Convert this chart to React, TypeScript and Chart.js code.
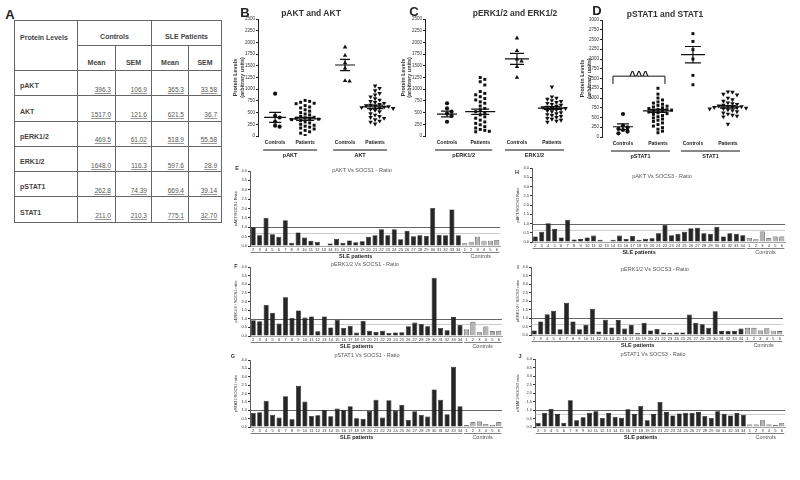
import React, { useEffect, useRef } from 'react';
import { Chart, registerables } from 'chart.js';
Chart.register(...registerables);

const FONT = '"Liberation Sans", Arial, sans-serif';
Chart.defaults.font.family = FONT;

// ---------- Table A ----------
const tableRows = ['pAKT', 'AKT', 'pERK1/2', 'ERK1/2', 'pSTAT1', 'STAT1'];
const ctrlMeanText = ['396.3', '1517.0', '469.5', '1648.0', '262.8', '211.0'];
const ctrlSemText = ['106.9', '121.6', '61.02', '116.3', '74.39', '210.3'];
const sleMeanText = ['365.3', '621.5', '518.9', '597.6', '669.4', '775.1'];
const sleSemText = ['33.58', '36.7', '55.58', '28.9', '39.14', '32.70'];

// ---------- Scatter panels B, C, D ----------
const catLabels = ['Controls', 'Patients', 'Controls', 'Patients'];

const bGroupNames = ['pAKT', 'AKT'];
const bCtrlPAKT = [905, 430, 395, 305, 220, 200];
const bPatPAKT = [760, 740, 720, 700, 690, 650, 620, 600, 560, 530, 500, 470, 450, 420, 400, 390, 380, 370, 360, 350, 330, 300, 280, 250, 230, 210, 190, 170, 150, 120, 90, 60, 10];
const bCtrlAKT = [1900, 1720, 1560, 1450, 1180, 1170];
const bPatAKT = [1070, 1020, 970, 910, 880, 840, 800, 770, 740, 720, 700, 680, 660, 650, 640, 630, 620, 610, 600, 590, 570, 550, 520, 480, 450, 420, 400, 380, 350, 320, 300, 260];
const bMeans = [396.3, 365.3, 1517.0, 621.5];
const bSems = [106.9, 33.58, 121.6, 36.7];

const cGroupNames = ['pERK1/2', 'ERK1/2'];
const cCtrlPERK = [700, 590, 520, 480, 430, 305];
const cPatPERK = [1250, 1210, 1160, 1090, 950, 910, 880, 840, 800, 770, 730, 700, 640, 590, 560, 520, 490, 450, 410, 380, 340, 300, 270, 240, 200, 170, 140, 120, 100, 90];
const cCtrlERK = [2090, 1820, 1640, 1600, 1480, 1250];
const cPatERK = [1050, 840, 810, 790, 760, 740, 720, 700, 680, 660, 640, 620, 610, 600, 590, 580, 560, 540, 520, 500, 480, 460, 440, 420, 400, 380, 360, 340, 320, 300];
const cMeans = [469.5, 518.9, 1648.0, 597.6];
const cSems = [61.02, 55.58, 116.3, 28.9];

const dGroupNames = ['pSTAT1', 'STAT1'];
const dCtrlPSTAT = [590, 290, 250, 210, 180, 140, 95];
const dPatPSTAT = [1250, 1100, 1000, 950, 900, 870, 840, 810, 790, 770, 750, 730, 710, 700, 690, 680, 660, 640, 620, 600, 580, 550, 520, 490, 460, 430, 400, 360, 320, 280, 240, 200, 150, 110];
const dCtrlSTAT = [2650, 2450, 2240, 2000, 1580, 1340];
const dPatSTAT = [1160, 1150, 1100, 1080, 1000, 960, 920, 880, 860, 840, 820, 800, 790, 780, 770, 760, 750, 740, 730, 720, 700, 680, 650, 620, 590, 560, 540, 520, 330];
const dMeans = [262.8, 669.4, 2110, 775.1];
const dSems = [74.39, 39.14, 210.3, 32.7];
const dSigText = '^^^';
const dSigTop = 1560;
const dSigLeg = 1360;

// ---------- Bar panels E-J ----------
const sleIds = ['2','3','4','5','6','7','8','9','10','11','12','13','14','15','16','17','18','19','20','21','22','23','24','25','26','27','28','29','30','31','32','33','34'];
const ctrlIds = ['1','2','3','4','5','6'];

const eSle = [1.0, 0.57, 1.5, 0.63, 0.5, 1.38, 0.17, 0.72, 0.45, 0.28, 0.22, 0.03, 0.14, 0.38, 0.17, 0.3, 0.2, 0.25, 0.5, 0.58, 0.9, 0.57, 0.9, 0.36, 0.82, 0.52, 0.57, 0.55, 2.03, 0.6, 0.58, 1.95, 0.58];
const eCtrl = [0.15, 0.23, 0.5, 0.28, 0.28, 0.32];
const fSle = [0.92, 0.86, 1.8, 1.35, 0.72, 2.24, 1.05, 1.48, 1.07, 1.13, 0.27, 1.13, 0.5, 0.94, 0.47, 0.6, 0.2, 0.88, 0.31, 0.25, 0.31, 0.18, 0.21, 0.22, 0.57, 0.78, 0.7, 0.56, 3.37, 0.47, 0.33, 1.1, 0.64];
const fCtrl = [0.37, 0.82, 0.22, 0.55, 0.27, 0.3];
const gSle = [0.84, 0.88, 1.56, 0.72, 0.56, 1.84, 0.46, 2.46, 1.52, 0.66, 0.7, 1.02, 0.64, 1.1, 1.02, 1.24, 0.52, 0.5, 0.96, 1.62, 0.56, 1.6, 0.98, 1.32, 0.42, 0.94, 0.72, 0.62, 2.24, 1.62, 0.76, 3.6, 1.24];
const gCtrl = [0.1, 0.28, 0.33, 0.18, 0.12, 0.28];
const hSle = [0.3, 0.55, 1.02, 0.7, 0.25, 1.2, 0.14, 0.16, 0.25, 0.35, 0.12, 0.02, 0.12, 0.35, 0.16, 0.33, 0.12, 0.18, 0.2, 0.47, 0.92, 0.37, 0.45, 0.55, 0.75, 0.77, 0.47, 0.45, 0.82, 0.3, 0.47, 0.45, 0.36];
const hCtrl = [0.22, 0.15, 0.57, 0.2, 0.3, 0.3];
const iSle = [0.27, 0.8, 1.22, 1.43, 0.34, 1.9, 0.8, 0.34, 0.61, 1.54, 0.21, 0.9, 0.44, 0.88, 0.38, 0.61, 0.13, 0.72, 0.27, 0.36, 0.15, 0.13, 0.15, 0.15, 1.2, 0.72, 0.63, 0.42, 1.39, 0.23, 0.25, 0.25, 0.38];
const iCtrl = [0.42, 0.42, 0.27, 0.4, 0.25, 0.23];
const jSle = [0.24, 0.84, 1.08, 0.76, 0.25, 1.57, 0.39, 0.57, 0.84, 0.92, 0.53, 0.82, 0.6, 0.55, 1.04, 0.76, 1.24, 0.39, 0.76, 1.47, 0.88, 0.68, 0.8, 0.84, 0.84, 0.88, 0.65, 0.53, 0.92, 0.78, 0.68, 0.82, 0.72];
const jCtrl = [0.15, 0.15, 0.4, 0.15, 0.1, 0.24];

const refMain = 1.0;
const refSecond = { E: 0.67, F: 0.67, G: null as number | null, H: 0.65, I: 0.65, J: 0.75 };

// ---------- helpers ----------
type Geo = { cl: number; ct: number; cw: number; ch: number; left: number; right: number; top: number; bottom: number };

function beeswarm(values: number[], thr: number, dx: number) {
  const order = values.map((_, i) => i).sort((a, b) => values[b] - values[a]);
  const placed: { v: number; s: number }[] = [];
  const offs = new Array(values.length).fill(0);
  const seq = [0, 1, -1, 2, -2, 3, -3, 4, -4, 5, -5, 6, -6];
  for (const i of order) {
    const v = values[i];
    const used = new Set(placed.filter(p => Math.abs(p.v - v) < thr).map(p => p.s));
    let s = 0;
    for (const c of seq) { if (!used.has(c)) { s = c; break; } }
    placed.push({ v, s });
    offs[i] = s * dx;
  }
  return offs;
}

type ScatterSpec = {
  geo: Geo; yMax: number; pos: number[]; xMin: number; xMax: number; dx: number;
  groups: number[][]; styles: { style: string; rot: number; r: number }[];
  means: number[]; sems: number[]; meanHalf: number[]; capHalf: number[];
  groupNames: string[]; yTitlePad: number;
  sig?: { text: string; top: number; leg: number };
};

function makeScatter(sp: ScatterSpec) {
  const g = sp.geo;
  const datasets = sp.groups.map((vals, gi) => {
    const offs = beeswarm(vals, sp.yMax * 0.03, sp.dx);
    return {
      type: 'scatter' as const,
      data: vals.map((v, i) => ({ x: sp.pos[gi] + offs[i], y: v })),
      pointStyle: sp.styles[gi].style,
      rotation: sp.styles[gi].rot,
      pointRadius: sp.styles[gi].r,
      backgroundColor: '#111',
      borderColor: '#111',
      borderWidth: 0,
    };
  });
  const decor = {
    id: 'scatterDecor',
    afterDatasetsDraw(chart: any) {
      const { ctx, chartArea } = chart;
      const x = chart.scales.x, y = chart.scales.y;
      ctx.save();
      ctx.strokeStyle = '#111';
      ctx.lineWidth = 1.2;
      sp.pos.forEach((p, i) => {
        const cx = x.getPixelForValue(p);
        const my = y.getPixelForValue(sp.means[i]);
        const hi = y.getPixelForValue(sp.means[i] + sp.sems[i]);
        const lo = y.getPixelForValue(sp.means[i] - sp.sems[i]);
        const w = sp.meanHalf[i], c = sp.capHalf[i];
        ctx.beginPath();
        ctx.moveTo(cx - w, my); ctx.lineTo(cx + w, my);
        ctx.moveTo(cx, hi); ctx.lineTo(cx, lo);
        ctx.moveTo(cx - c, hi); ctx.lineTo(cx + c, hi);
        ctx.moveTo(cx - c, lo); ctx.lineTo(cx + c, lo);
        ctx.stroke();
      });
      ctx.lineWidth = 1;
      ctx.fillStyle = '#222';
      ctx.font = 'bold 5.5px ' + FONT;
      ctx.textAlign = 'center';
      ctx.textBaseline = 'middle';
      sp.groupNames.forEach((name, k) => {
        const a = x.getPixelForValue(sp.pos[2 * k]) - 12;
        const b = x.getPixelForValue(sp.pos[2 * k + 1]) + 12;
        const ly = chartArea.bottom + 14;
        ctx.beginPath(); ctx.moveTo(a, ly); ctx.lineTo(b, ly); ctx.stroke();
        ctx.fillText(name, (a + b) / 2, ly + 5.5);
      });
      if (sp.sig) {
        const a = x.getPixelForValue(sp.pos[0]) - 10;
        const b = x.getPixelForValue(sp.pos[1]) + 7;
        const ty = y.getPixelForValue(sp.sig.top);
        const ly = y.getPixelForValue(sp.sig.leg);
        ctx.lineWidth = 1;
        ctx.beginPath();
        ctx.moveTo(a, ly); ctx.lineTo(a, ty); ctx.lineTo(b, ty); ctx.lineTo(b, ly);
        ctx.stroke();
        ctx.font = 'bold 11px ' + FONT;
        ctx.textBaseline = 'alphabetic';
        ctx.fillStyle = '#111';
        ctx.fillText(sp.sig.text, (a + b) / 2, ty + 3);
      }
      ctx.restore();
    },
  };
  return {
    type: 'scatter' as const,
    data: { datasets },
    plugins: [decor],
    options: {
      responsive: false, animation: false as const, devicePixelRatio: 1,
      layout: { padding: { top: g.top - g.ct, right: g.cl + g.cw - g.right, left: 0, bottom: 0 } },
      plugins: { legend: { display: false }, tooltip: { enabled: false }, title: { display: false } },
      scales: {
        x: {
          type: 'linear' as const, min: sp.xMin, max: sp.xMax,
          afterBuildTicks: (s: any) => { s.ticks = sp.pos.map(v => ({ value: v })); },
          afterFit: (s: any) => { s.height = g.ct + g.ch - g.bottom; },
          grid: { display: false, drawTicks: false }, border: { display: false },
          ticks: { autoSkip: false, maxRotation: 0, padding: 4, font: { size: 5, weight: 'bold' as const }, color: '#222', callback: (_v: any, i: number) => catLabels[i] },
        },
        y: {
          type: 'linear' as const, min: 0, max: sp.yMax,
          afterFit: (s: any) => { s.width = g.left - g.cl; },
          ticks: { stepSize: 250, font: { size: 4.5 }, color: '#333', padding: 1, callback: (v: any) => String(v) },
          grid: { drawOnChartArea: false, tickLength: 2, color: '#222' },
          border: { color: '#222' },
          title: { display: true, text: ['Protein Levels', '(arbitrary units)'], font: { size: 5.5, weight: 'bold' as const }, color: '#333', padding: { top: sp.yTitlePad, bottom: 0 } },
        },
      },
    },
  };
}

type BarSpec = { geo: Geo; sle: number[]; ctrl: number[]; ref2: number | null; yTitle: string; yTitlePad: number };

function makeBar(sp: BarSpec) {
  const g = sp.geo;
  const labels = [...sleIds, ...ctrlIds];
  const values = [...sp.sle, ...sp.ctrl];
  const n = sp.sle.length;
  const decor = {
    id: 'barDecor',
    beforeDatasetsDraw(chart: any) {
      const { ctx, chartArea } = chart;
      const y = chart.scales.y;
      ctx.save();
      const lines: [number | null, string, number][] = [[refMain, '#555', 0.9], [sp.ref2, '#b8b8b8', 0.7]];
      lines.forEach(([v, col, lw]) => {
        if (v === null) return;
        const py = Math.round(y.getPixelForValue(v)) + 0.5;
        ctx.strokeStyle = col; ctx.lineWidth = lw;
        ctx.beginPath(); ctx.moveTo(chartArea.left, py); ctx.lineTo(chartArea.right, py); ctx.stroke();
      });
      ctx.restore();
    },
    afterDraw(chart: any) {
      const { ctx, chartArea } = chart;
      const x = chart.scales.x;
      const half = (x.getPixelForValue(1) - x.getPixelForValue(0)) / 2;
      const ly = chartArea.bottom + 6.5;
      ctx.save();
      ctx.strokeStyle = '#444'; ctx.lineWidth = 0.7;
      ctx.textAlign = 'center'; ctx.textBaseline = 'middle';
      const spans: [number, number, string, string, string][] = [
        [0, n - 1, 'SLE patients', 'bold 5.5px ' + FONT, '#222'],
        [n, labels.length - 1, 'Controls', '5.5px ' + FONT, '#555'],
      ];
      spans.forEach(([a, b, t, f, c]) => {
        const xa = x.getPixelForValue(a) - half * 0.8;
        const xb = x.getPixelForValue(b) + half * 0.8;
        ctx.beginPath(); ctx.moveTo(xa, ly); ctx.lineTo(xb, ly); ctx.stroke();
        ctx.font = f; ctx.fillStyle = c;
        ctx.fillText(t, (xa + xb) / 2, ly + 3.6);
      });
      ctx.restore();
    },
  };
  return {
    type: 'bar' as const,
    data: {
      labels,
      datasets: [{
        data: values,
        backgroundColor: values.map((_, i) => (i < n ? '#262626' : '#b4b4b4')),
        borderColor: '#111',
        borderWidth: 0.6,
        barPercentage: 0.78,
        categoryPercentage: 1,
      }],
    },
    plugins: [decor],
    options: {
      responsive: false, animation: false as const, devicePixelRatio: 1,
      layout: { padding: { top: g.top - g.ct, right: g.cl + g.cw - g.right, left: 0, bottom: 0 } },
      plugins: { legend: { display: false }, tooltip: { enabled: false }, title: { display: false } },
      scales: {
        x: {
          afterFit: (s: any) => { s.height = g.ct + g.ch - g.bottom; },
          grid: { display: false, drawTicks: false },
          border: { display: true, color: '#666', width: 0.6 },
          ticks: { autoSkip: false, maxRotation: 0, minRotation: 0, padding: 1, font: { size: 4 }, color: '#333' },
        },
        y: {
          min: 0, max: 4,
          afterFit: (s: any) => { s.width = g.left - g.cl; },
          ticks: { stepSize: 0.5, font: { size: 4 }, color: '#333', padding: 1, callback: (v: any) => Number(v).toFixed(1) },
          grid: { drawOnChartArea: false, tickLength: 2, color: '#333' },
          border: { color: '#333', width: 0.8 },
          title: { display: true, text: sp.yTitle, font: { size: 4 }, color: '#333', padding: { top: sp.yTitlePad, bottom: 0 } },
        },
      },
    },
  };
}

function ChartCanvas({ geo, make }: { geo: Geo; make: () => any }) {
  const ref = useRef<HTMLCanvasElement>(null);
  useEffect(() => {
    const chart = new Chart(ref.current as HTMLCanvasElement, make());
    return () => chart.destroy();
  }, []);
  return (
    <canvas
      ref={ref}
      width={geo.cw}
      height={geo.ch}
      style={{ position: 'absolute', left: geo.cl, top: geo.ct, width: geo.cw, height: geo.ch }}
    />
  );
}

function Txt({ x, y, s, b, c, children }: { x: number; y: number; s: number; b?: boolean; c?: string; children: any }) {
  return (
    <div style={{
      position: 'absolute', left: x, top: y, transform: 'translate(-50%,-50%)', fontSize: s,
      fontWeight: b ? 'bold' : 'normal', color: c || '#222', whiteSpace: 'nowrap', lineHeight: 1, fontFamily: FONT,
    }}>{children}</div>
  );
}

const geoB: Geo = { cl: 225, ct: 0, cw: 185, ch: 165, left: 258, right: 400, top: 19, bottom: 136 };
const geoC: Geo = { cl: 395, ct: 0, cw: 190, ch: 165, left: 425, right: 575, top: 19, bottom: 136 };
const geoD: Geo = { cl: 572, ct: 0, cw: 190, ch: 165, left: 602, right: 751, top: 20, bottom: 137 };

const geoE: Geo = { cl: 228, ct: 158, cw: 277, ch: 104, left: 250, right: 500, top: 171, bottom: 246 };
const geoF: Geo = { cl: 228, ct: 255, cw: 277, ch: 97, left: 250, right: 502, top: 267, bottom: 336 };
const geoG: Geo = { cl: 228, ct: 348, cw: 277, ch: 95, left: 250, right: 502, top: 360, bottom: 427 };
const geoH: Geo = { cl: 510, ct: 156, cw: 280, ch: 102, left: 532, right: 785, top: 168, bottom: 242 };
const geoI: Geo = { cl: 510, ct: 255, cw: 280, ch: 96, left: 531, right: 783, top: 267, bottom: 335 };
const geoJ: Geo = { cl: 510, ct: 347, cw: 280, ch: 96, left: 535, right: 785, top: 359, bottom: 427 };

const stylesBC = [
  { style: 'circle', rot: 0, r: 2.1 },
  { style: 'rect', rot: 0, r: 2.1 },
  { style: 'triangle', rot: 0, r: 2.6 },
  { style: 'triangle', rot: 180, r: 2.6 },
];

function DataTable() {
  const border = '1px solid #666';
  const hdr: any = { border, fontWeight: 'bold', fontSize: 7, color: '#444', lineHeight: 1, padding: 0, verticalAlign: 'bottom', paddingBottom: 5, textAlign: 'center' };
  const lab: any = { border, fontWeight: 'bold', fontSize: 7, color: '#444', lineHeight: 1, padding: 0, paddingLeft: 5, paddingBottom: 5, verticalAlign: 'bottom', textAlign: 'left' };
  const val: any = { border, fontSize: 6.5, color: '#555', lineHeight: 1, padding: 0, paddingRight: 4, paddingBottom: 2, verticalAlign: 'bottom', textAlign: 'right' };
  const u: any = { textDecoration: 'underline', textDecorationColor: '#999' };
  return (
    <table style={{ position: 'absolute', left: 14, top: 20, width: 207, borderCollapse: 'collapse', tableLayout: 'fixed', fontFamily: FONT }}>
      <colgroup>
        <col style={{ width: 63 }} /><col style={{ width: 38 }} /><col style={{ width: 36 }} /><col style={{ width: 37 }} /><col style={{ width: 33 }} />
      </colgroup>
      <tbody>
        <tr style={{ height: 25 }}>
          <td rowSpan={2} style={{ ...lab, verticalAlign: 'top', paddingTop: 13, paddingBottom: 0 }}>Protein Levels</td>
          <td colSpan={2} style={hdr}>Controls</td>
          <td colSpan={2} style={hdr}>SLE Patients</td>
        </tr>
        <tr style={{ height: 25 }}>
          <td style={{ ...hdr, paddingBottom: 4 }}>Mean</td>
          <td style={{ ...hdr, paddingBottom: 4 }}>SEM</td>
          <td style={{ ...hdr, paddingBottom: 4 }}>Mean</td>
          <td style={{ ...hdr, paddingBottom: 4 }}>SEM</td>
        </tr>
        {tableRows.map((r, i) => (
          <tr key={r} style={{ height: 25.3 }}>
            <td style={lab}><div style={{ marginBottom: 1 }}>{r}</div></td>
            <td style={val}><span style={u}>{ctrlMeanText[i]}</span></td>
            <td style={val}><span style={u}>{ctrlSemText[i]}</span></td>
            <td style={val}><span style={u}>{sleMeanText[i]}</span></td>
            <td style={val}><span style={u}>{sleSemText[i]}</span></td>
          </tr>
        ))}
      </tbody>
    </table>
  );
}

export default function App() {
  return (
    <div style={{ position: 'absolute', left: 0, top: 0, width: 800, height: 480, background: '#fff', overflow: 'hidden', fontFamily: FONT }}>
      <Txt x={10} y={14} s={13} b>A</Txt>
      <DataTable />

      <ChartCanvas geo={geoB} make={() => makeScatter({
        geo: geoB, yMax: 2500, pos: [1, 2, 3.33, 4.33], xMin: 0.43, xMax: 5.16, dx: 0.15,
        groups: [bCtrlPAKT, bPatPAKT, bCtrlAKT, bPatAKT], styles: stylesBC,
        means: bMeans, sems: bSems, meanHalf: [11, 16, 10, 13], capHalf: [6, 9, 5, 8],
        groupNames: bGroupNames, yTitlePad: 7.5,
      })} />
      <ChartCanvas geo={geoC} make={() => makeScatter({
        geo: geoC, yMax: 2500, pos: [1, 1.95, 3, 4], xMin: 0.37, xMax: 4.66, dx: 0.13,
        groups: [cCtrlPERK, cPatPERK, cCtrlERK, cPatERK], styles: stylesBC,
        means: cMeans, sems: cSems, meanHalf: [10, 15, 12, 14], capHalf: [6, 9, 7, 8],
        groupNames: cGroupNames, yTitlePad: 5,
      })} />
      <ChartCanvas geo={geoD} make={() => makeScatter({
        geo: geoD, yMax: 3000, pos: [1, 2, 3, 4], xMin: 0.4, xMax: 4.66, dx: 0.13,
        groups: [dCtrlPSTAT, dPatPSTAT, dCtrlSTAT, dPatSTAT],
        styles: [
          { style: 'circle', rot: 0, r: 2.1 },
          { style: 'rect', rot: 0, r: 2.1 },
          { style: 'rect', rot: 0, r: 2.1 },
          { style: 'triangle', rot: 180, r: 2.6 },
        ],
        means: dMeans, sems: dSems, meanHalf: [10, 15, 12, 14], capHalf: [6, 9, 8, 8],
        groupNames: dGroupNames, yTitlePad: 7.5,
        sig: { text: dSigText, top: dSigTop, leg: dSigLeg },
      })} />

      <Txt x={245} y={12} s={13} b>B</Txt>
      <Txt x={311} y={13} s={8.5} b c="#333">pAKT and AKT</Txt>
      <Txt x={414} y={11} s={13} b>C</Txt>
      <Txt x={515} y={13} s={8.5} b c="#333">pERK1/2 and ERK1/2</Txt>
      <Txt x={597} y={10} s={13} b>D</Txt>
      <Txt x={665} y={14} s={8.5} b c="#333">pSTAT1 and STAT1</Txt>

      <ChartCanvas geo={geoE} make={() => makeBar({ geo: geoE, sle: eSle, ctrl: eCtrl, ref2: refSecond.E, yTitle: 'pAKT/SOCS1 Ratio', yTitlePad: 5.6 })} />
      <ChartCanvas geo={geoF} make={() => makeBar({ geo: geoF, sle: fSle, ctrl: fCtrl, ref2: refSecond.F, yTitle: 'pERK1/2 / SOCS1 ratio', yTitlePad: 5.6 })} />
      <ChartCanvas geo={geoG} make={() => makeBar({ geo: geoG, sle: gSle, ctrl: gCtrl, ref2: refSecond.G, yTitle: 'pSTAT1/SOCS1 ratio', yTitlePad: 5.6 })} />
      <ChartCanvas geo={geoH} make={() => makeBar({ geo: geoH, sle: hSle, ctrl: hCtrl, ref2: refSecond.H, yTitle: 'pAKT/SOCS3 Ratio', yTitlePad: 5.6 })} />
      <ChartCanvas geo={geoI} make={() => makeBar({ geo: geoI, sle: iSle, ctrl: iCtrl, ref2: refSecond.I, yTitle: 'pERK1/2 / SOCS3 ratio', yTitlePad: 5.6 })} />
      <ChartCanvas geo={geoJ} make={() => makeBar({ geo: geoJ, sle: jSle, ctrl: jCtrl, ref2: refSecond.J, yTitle: 'pSTAT1/SOCS3 ratio', yTitlePad: 5.6 })} />

      <Txt x={362} y={171} s={5.5} c="#555">pAKT Vs SOCS1 - Ratio</Txt>
      <Txt x={365} y={265} s={5.5} c="#555">pERK1/2 Vs SOCS1 - Ratio</Txt>
      <Txt x={367} y={356} s={5.5} c="#555">pSTAT1 Vs SOCS1 - Ratio</Txt>
      <Txt x={662} y={177} s={5.5} c="#555">pAKT Vs SOCS3 - Ratio</Txt>
      <Txt x={655} y={270} s={5.5} c="#555">pERK1/2 Vs SOCS3 - Ratio</Txt>
      <Txt x={653} y={355} s={5.5} c="#555">pSTAT1 Vs SOCS3 - Ratio</Txt>

      <Txt x={237} y={169} s={5.5} b c="#333">E</Txt>
      <Txt x={236} y={267} s={5.5} b c="#333">F</Txt>
      <Txt x={233} y={357} s={5.5} b c="#333">G</Txt>
      <Txt x={517} y={173} s={5.5} b c="#333">H</Txt>
      <Txt x={518} y={268} s={5.5} b c="#333">I</Txt>
      <Txt x={520} y={357} s={5.5} b c="#333">J</Txt>
    </div>
  );
}
